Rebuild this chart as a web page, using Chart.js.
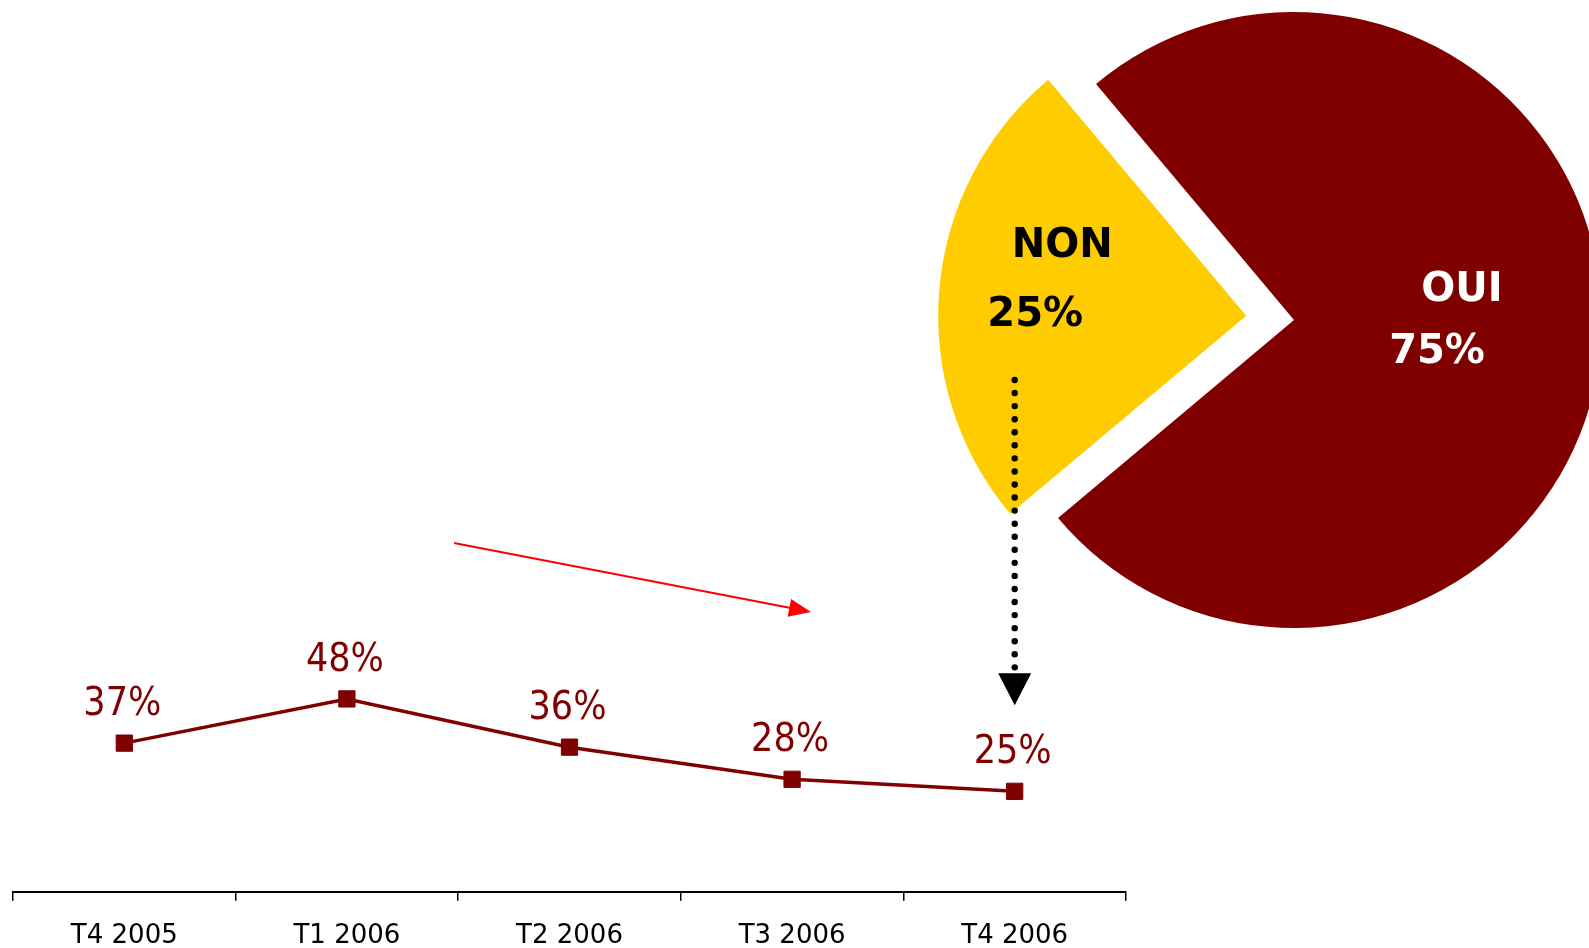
<!DOCTYPE html>
<html>
<head>
<meta charset="utf-8">
<script src="https://cdn.jsdelivr.net/npm/chart.js@4/dist/chart.umd.min.js"></script>
<style>
  html, body { margin: 0; padding: 0; background: #fff; overflow: hidden; width: 1589px; height: 948px; }
  #pie { position: absolute; left: 900px; top: 0; z-index: 1; }
  #line { position: absolute; left: 0; top: 0; z-index: 2; pointer-events: none; }
</style>
</head>
<body>
<canvas id="pie" width="788" height="640"></canvas>
<canvas id="line" width="1589" height="972"></canvas>
<script>
const quarters = ["T4 2005", "T1 2006", "T2 2006", "T3 2006", "T4 2006"];
const nonShare = [37, 48, 36, 28, 25];

const pieLabels = ["NON", "OUI"];
const pieValues = [25, 75];
const pieColors = ["#FFCC00", "#800000"];
const pieTextColors = ["#000000", "#FFFFFF"];

const MAROON = "#800000";

// text on the pie slices
const pieText = {
  id: "pieText",
  afterDatasetsDraw(chart) {
    const ctx = chart.ctx;
    const arcs = chart.getDatasetMeta(0).data;
    // offsets of each text block from the (moved) slice centre
    const place = [[-184, -69, -211, 0], [168, -29, 143, 33]];
    ctx.save();
    ctx.font = "bold 40px 'DejaVu Sans'";
    ctx.textAlign = "center";
    ctx.textBaseline = "middle";
    arcs.forEach((arc, i) => {
      const off = (arc.options.offset || 0) / 4;
      const mid = (arc.startAngle + arc.endAngle) / 2;
      const cx = arc.x + Math.cos(mid) * off;
      const cy = arc.y + Math.sin(mid) * off;
      const p = place[i];
      ctx.fillStyle = pieTextColors[i];
      ctx.fillText(pieLabels[i], cx + p[0], cy + p[1]);
      ctx.fillText(pieValues[i] + "%", cx + p[2], cy + p[3]);
    });
    ctx.restore();
  }
};

new Chart(document.getElementById("pie").getContext("2d"), {
  type: "pie",
  data: {
    labels: pieLabels,
    datasets: [{
      data: pieValues,
      backgroundColor: pieColors,
      borderWidth: 0,
      offset: [192, 0]
    }]
  },
  options: {
    responsive: false,
    animation: false,
    rotation: 230,
    radius: 308,
    layout: { padding: 0 },
    plugins: { legend: { display: false }, tooltip: { enabled: false } }
  },
  plugins: [pieText]
});

// value labels, trend arrow and the dotted link from the pie
const extras = {
  id: "extras",
  afterDatasetsDraw(chart) {
    const ctx = chart.ctx;
    const pts = chart.getDatasetMeta(0).data;
    ctx.save();
    ctx.font = "39px 'DejaVu Sans Condensed'";
    ctx.fillStyle = MAROON;
    ctx.textAlign = "center";
    ctx.textBaseline = "middle";
    pts.forEach((p, i) => {
      ctx.fillText(nonShare[i] + "%", p.x - 2, p.y - 38);
    });

    // red trend arrow
    const x0 = 454, y0 = 543, x1 = 811, y1 = 612;
    const ang = Math.atan2(y1 - y0, x1 - x0);
    ctx.strokeStyle = "#FF0000";
    ctx.fillStyle = "#FF0000";
    ctx.lineWidth = 2;
    ctx.beginPath();
    ctx.moveTo(x0, y0);
    ctx.lineTo(x1 - Math.cos(ang) * 18, y1 - Math.sin(ang) * 18);
    ctx.stroke();
    ctx.beginPath();
    ctx.moveTo(x1, y1);
    ctx.lineTo(x1 - Math.cos(ang) * 22 - Math.sin(ang) * 9, y1 - Math.sin(ang) * 22 + Math.cos(ang) * 9);
    ctx.lineTo(x1 - Math.cos(ang) * 22 + Math.sin(ang) * 9, y1 - Math.sin(ang) * 22 - Math.cos(ang) * 9);
    ctx.closePath();
    ctx.fill();

    // dotted arrow from the NON slice down to the last quarter
    const last = pts[pts.length - 1];
    const ax = last.x;
    const tip = last.y - 86;
    const top = 380, bottom = tip - 38;
    const n = Math.round((bottom - top) / 13.2);
    ctx.fillStyle = "#000";
    for (let k = 0; k <= n; k++) {
      ctx.beginPath();
      ctx.arc(ax, top + (bottom - top) * k / n, 3.2, 0, Math.PI * 2);
      ctx.fill();
    }
    ctx.beginPath();
    ctx.moveTo(ax - 16.5, tip - 32);
    ctx.lineTo(ax + 16.5, tip - 32);
    ctx.lineTo(ax, tip);
    ctx.closePath();
    ctx.fill();
    ctx.restore();
  }
};

new Chart(document.getElementById("line").getContext("2d"), {
  type: "line",
  data: {
    labels: quarters,
    datasets: [{
      data: nonShare,
      borderColor: MAROON,
      backgroundColor: MAROON,
      borderWidth: 3.5,
      pointStyle: "rect",
      pointRadius: 11.5,
      pointBorderWidth: 1,
      tension: 0
    }]
  },
  options: {
    responsive: false,
    animation: false,
    layout: { padding: { left: 13, right: 463, top: 490, bottom: 0 } },
    scales: {
      x: {
        type: "category",
        offset: true,
        grid: {
          display: true,
          offset: true,
          drawOnChartArea: false,
          drawTicks: true,
          tickLength: 9,
          color: "#000",
          lineWidth: 1.5
        },
        border: { display: true, color: "#000", width: 2 },
        ticks: {
          color: "#000",
          padding: 20,
          maxRotation: 0,
          font: { family: "'DejaVu Sans'", size: 26 }
        }
      },
      y: { display: false, min: 0, max: 100 }
    },
    plugins: { legend: { display: false }, tooltip: { enabled: false } }
  },
  plugins: [extras]
});
</script>
</body>
</html>
